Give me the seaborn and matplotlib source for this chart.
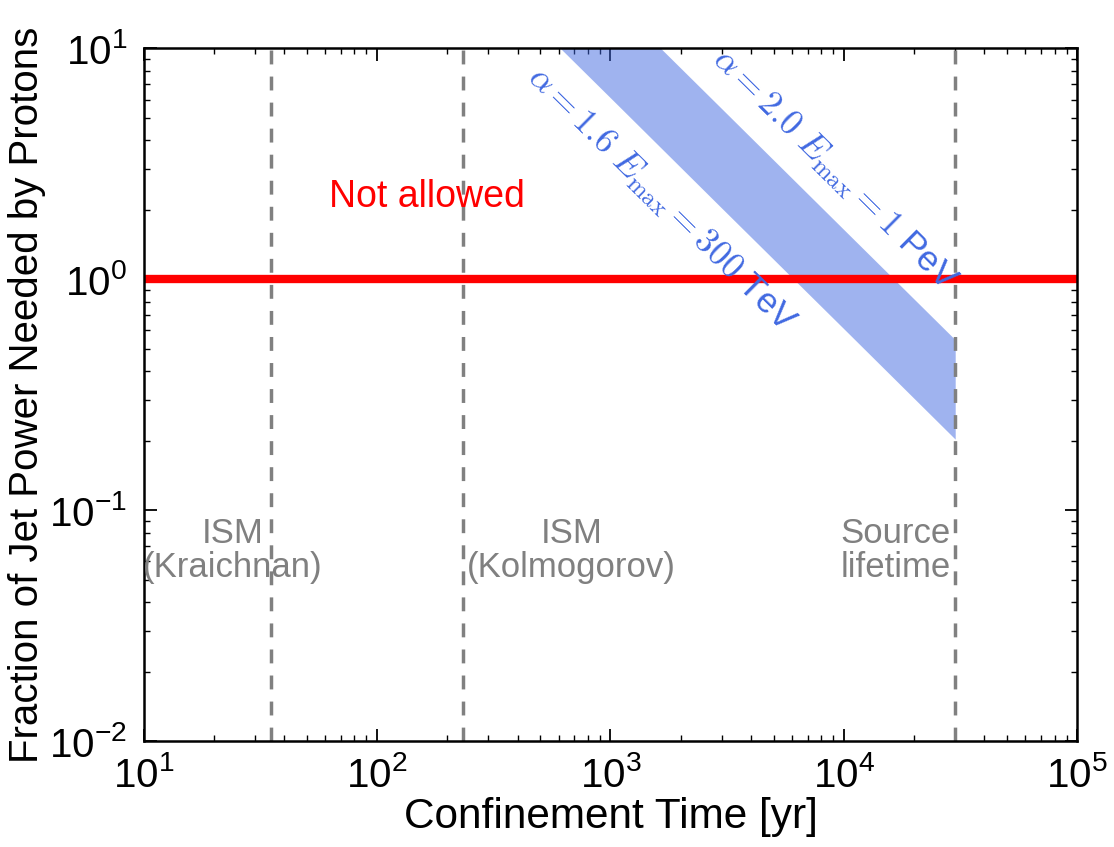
import matplotlib
matplotlib.use('Agg')
import matplotlib.pyplot as plt
from matplotlib.ticker import FuncFormatter, LogLocator
import numpy as np
import seaborn as sns

# valores
tempo = [300, 1000, 3000, 10000, 30000]
fracao_sup = [54.7, 16.4, 5.47, 1.64, 0.547]   # alpha = 2.0, Emax = 1 PeV
fracao_inf = [20.3, 6.1, 2.03, 0.61, 0.203]    # alpha = 1.6, Emax = 300 TeV
limite_x = [10, 1e5]
limite_y = [1, 1]
tempos_escala = [35, 234, 30000]
rotulos_escala = ['ISM\n(Kraichnan)', 'ISM\n(Kolmogorov)', 'Source\nlifetime']
pos_rotulos_x = [24, 680, 16700]

sns.set_style('ticks')
plt.rcParams['font.family'] = ['Liberation Sans', 'DejaVu Sans']
plt.rcParams['mathtext.fontset'] = 'cm'
plt.rcParams['axes.unicode_minus'] = False
for k in ['text.color', 'axes.labelcolor', 'xtick.color', 'ytick.color', 'axes.edgecolor']:
    plt.rcParams[k] = 'black'

fig, ax = plt.subplots(figsize=(11.14, 8.47), dpi=100)
fig.subplots_adjust(left=0.129, right=0.967, top=0.943, bottom=0.125)

ax.fill_between(tempo, fracao_inf, fracao_sup, color='royalblue', alpha=0.5, lw=0)
sns.lineplot(x=limite_x, y=limite_y, ax=ax, color='red', lw=6)

for t in tempos_escala:
    ax.axvline(t, color='gray', ls='--', lw=2.5, dashes=(4, 3.5))

for x, txt in zip(pos_rotulos_x, rotulos_escala):
    ax.text(x, 0.067, txt, color='gray', fontsize=25, ha='center', va='center',
            linespacing=1.05)

ax.text(164, 2.26, 'Not allowed', color='red', fontsize=27, ha='center', va='center')
ax.text(1640, 2.2, r'$\alpha = 1.6\ E_{\rm max} = 300$ TeV', color='royalblue',
        fontsize=25.5, rotation=-44.7, ha='center', va='center', rotation_mode='anchor')
ax.text(9060, 2.96, r'$\alpha = 2.0\ E_{\rm max} = 1$ PeV', color='royalblue',
        fontsize=25.5, rotation=-44.7, ha='center', va='center', rotation_mode='anchor')

ax.set_xscale('log')
ax.set_yscale('log')
ax.set_xlim(10, 1e5)
ax.set_ylim(1e-2, 10)

fmt = FuncFormatter(lambda v, p: r'$\mathregular{10^{%d}}$' % round(np.log10(v)))
ax.xaxis.set_major_formatter(fmt)
ax.yaxis.set_major_formatter(fmt)
ax.xaxis.set_minor_locator(LogLocator(subs=np.arange(2, 10)))
ax.yaxis.set_minor_locator(LogLocator(subs=np.arange(2, 10)))

ax.tick_params(which='both', direction='in', top=True, right=True, labelsize=29)
ax.tick_params(axis='x', pad=11)
ax.tick_params(axis='y', pad=12)
ax.tick_params(which='major', length=9, width=1.3)
ax.tick_params(which='minor', length=4.5, width=1)
for s in ax.spines.values():
    s.set_linewidth(1.8)

ax.set_xlabel('Confinement Time [yr]', fontsize=30.5, labelpad=1)
ax.set_ylabel('Fraction of Jet Power Needed by Protons', fontsize=29, labelpad=2)

plt.savefig('out.png', dpi=100)
